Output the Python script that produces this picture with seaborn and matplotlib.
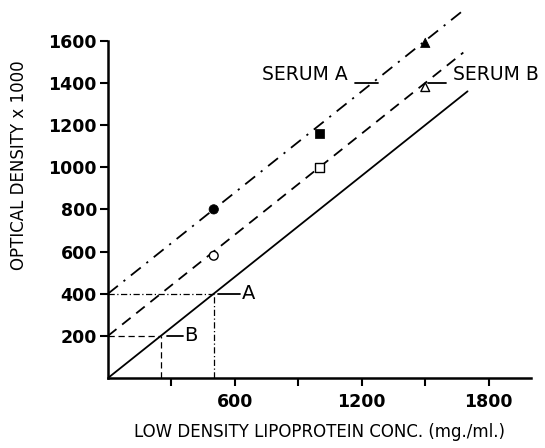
import matplotlib
matplotlib.use("Agg")
import matplotlib.pyplot as plt
import seaborn as sns
import pandas as pd

# ---- data ----
conc = [500, 1000, 1500]
serum_a_od = [800, 1160, 1590]
serum_b_od = [580, 1000, 1380]
point_kind = ["circle", "square", "triangle"]

std_x = [0, 1700]
std_y = [0, 1360]
fit_a_x = [0, 1680]
fit_a_y = [400, 1744]
fit_b_x = [0, 1680]
fit_b_y = [200, 1544]

read_a_od, read_a_conc = 400, 500
read_b_od, read_b_conc = 200, 250

y_ticks = [200, 400, 600, 800, 1000, 1200, 1400, 1600]
x_ticks = [300, 600, 900, 1200, 1500, 1800]
x_tick_labels = ["", "600", "", "1200", "", "1800"]

sns.set_theme(style="white")
plt.rcParams["font.family"] = ["DejaVu Sans"]
plt.rcParams["text.color"] = "black"
plt.rcParams["xtick.color"] = "black"
plt.rcParams["ytick.color"] = "black"

fig = plt.figure(figsize=(5.45, 4.48), dpi=100)
ax = fig.add_axes([108 / 545, 70 / 448, 423 / 545, 371 / 448])

k = "black"
sns.lineplot(x=std_x, y=std_y, ax=ax, color=k, lw=1.3)
sns.lineplot(x=fit_b_x, y=fit_b_y, ax=ax, color=k, lw=1.3, dashes=False)
ax.lines[-1].set_dashes([6, 4])
sns.lineplot(x=fit_a_x, y=fit_a_y, ax=ax, color=k, lw=1.3)
ax.lines[-1].set_dashes([7, 4, 1.2, 4])

df_a = pd.DataFrame({"x": conc, "y": serum_a_od, "k": point_kind})
df_b = pd.DataFrame({"x": conc, "y": serum_b_od, "k": point_kind})
mk = {"circle": "o", "square": "s", "triangle": "^"}
sns.scatterplot(data=df_a, x="x", y="y", style="k", markers=mk, ax=ax,
                color=k, s=45, edgecolor=k, legend=False, zorder=5)
sns.scatterplot(data=df_b, x="x", y="y", style="k", markers=mk, ax=ax,
                facecolor="white", s=40, edgecolor=k, linewidth=1.0,
                legend=False, zorder=5)

# reading lines
ax.plot([0, read_a_conc], [read_a_od, read_a_od], color=k, lw=0.9,
        dashes=[5, 2, 1, 2])
ax.plot([read_a_conc, read_a_conc], [0, read_a_od], color=k, lw=0.9,
        dashes=[5, 2, 1, 2])
ax.plot([0, read_b_conc], [read_b_od, read_b_od], color=k, lw=0.9,
        dashes=[5, 3])
ax.plot([read_b_conc, read_b_conc], [0, read_b_od], color=k, lw=0.9,
        dashes=[5, 3])
ax.plot([read_a_conc + 20, read_a_conc + 125], [read_a_od, read_a_od],
        color=k, lw=1.3)
ax.text(read_a_conc + 135, read_a_od, "A", fontsize=14, va="center",
        ha="left")
ax.plot([read_b_conc + 30, read_b_conc + 105], [read_b_od, read_b_od],
        color=k, lw=1.3)
ax.text(read_b_conc + 112, read_b_od, "B", fontsize=14, va="center",
        ha="left")

# serum labels
ax.plot([1170, 1275], [1400, 1400], color=k, lw=1.3)
ax.text(1135, 1440, "SERUM A", fontsize=13.5, ha="right", va="center")
ax.plot([1515, 1600], [1400, 1400], color=k, lw=1.3)
ax.text(1630, 1440, "SERUM B", fontsize=13.5, ha="left", va="center")

ax.set_xlim(0, 2000)
ax.set_ylim(0, 1760)
ax.set_yticks(y_ticks)
ax.set_yticklabels([str(v) for v in y_ticks], fontweight="bold")
ax.set_xticks(x_ticks)
ax.set_xticklabels(x_tick_labels, fontweight="bold")
ax.tick_params(axis="both", direction="out", length=6, width=1.5,
               color=k, labelcolor=k, labelsize=12.5, pad=2,
               bottom=True, left=True)
ax.tick_params(axis="x", pad=5)

for s in ["top", "right"]:
    ax.spines[s].set_visible(False)
for s in ["left", "bottom"]:
    ax.spines[s].set_color(k)
    ax.spines[s].set_linewidth(1.8)
ax.spines["left"].set_bounds(0, 1600)
ax.set_xlabel("")
ax.set_ylabel("")

fig.text(319 / 545, 1 - 432 / 448, "LOW DENSITY LIPOPROTEIN CONC. (mg./ml.)",
         ha="center", va="center", fontsize=12, color=k)
fig.text(19 / 545, 1 - 165 / 448, "OPTICAL DENSITY x 1000", rotation=90,
         ha="center", va="center", fontsize=12, color=k)

fig.savefig("out.png", dpi=100, facecolor="white")
